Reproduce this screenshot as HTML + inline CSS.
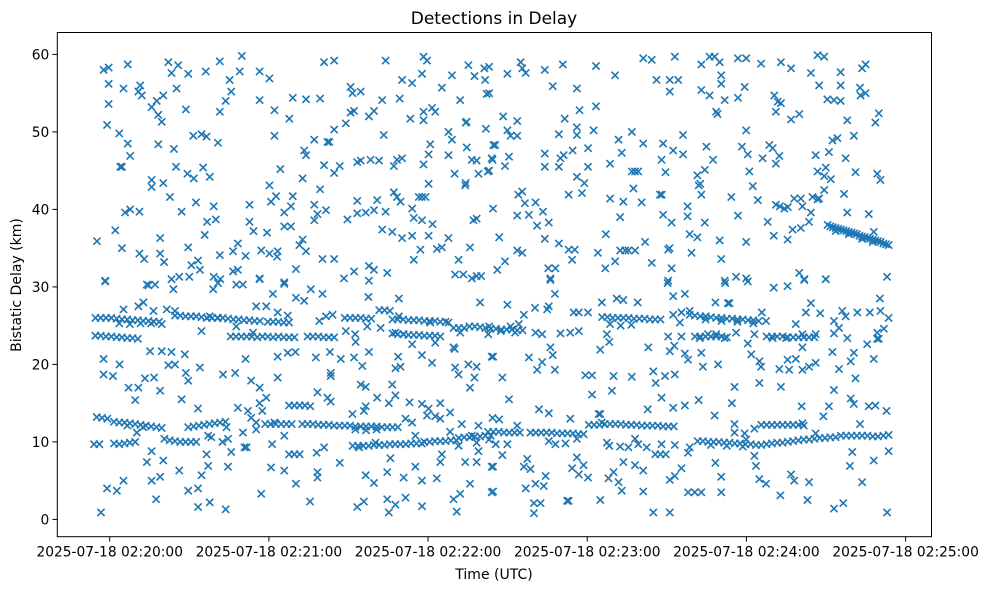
<!DOCTYPE html>
<html><head><meta charset="utf-8"><style>
html,body{margin:0;padding:0;background:#fff;}
svg{display:block;font-family:"DejaVu Sans","Liberation Sans",sans-serif;}
</style></head><body>
<svg id="chart" width="986" height="590" viewBox="0 0 986 590" xmlns="http://www.w3.org/2000/svg">
<rect x="0" y="0" width="986" height="590" fill="#fff"/>
<text x="494" y="24" font-size="17" text-anchor="middle" fill="#000">Detections in Delay</text>
<g id="marks"></g>
<g id="axes"></g>
<rect x="57.3" y="32.5" width="874.2" height="504.2" fill="none" stroke="#000" stroke-width="1"/>
<text x="494" y="579" font-size="14" text-anchor="middle" fill="#000">Time (UTC)</text>
<text x="0" y="0" font-size="14" text-anchor="middle" fill="#000" transform="translate(21,285) rotate(-90)">Bistatic Delay (km)</text>
</svg>
<script>
// time = seconds since 02:19:58.6, delay in km
const xTickTimes = [1.4, 61.4, 121.4, 181.4, 241.4, 301.4];
const xTickLabels = ["2025-07-18 02:20:00","2025-07-18 02:21:00","2025-07-18 02:22:00","2025-07-18 02:23:00","2025-07-18 02:24:00","2025-07-18 02:25:00"];
const yTickValues = [0,10,20,30,40,50,60];
const yTickLabels = ["0","10","20","30","40","50","60"];

const scatterTopLeft = [[-0.9,58.0],[1.0,58.3],[8.2,58.7],[23.5,59.0],[27.2,58.6],[24.7,57.6],[31.0,57.5],[37.6,57.8],[42.9,59.1],[51.2,59.8],[50.4,57.8],[57.9,57.8],[61.6,56.9],[82.2,59.0],[86.0,59.2],[105.4,59.2],[119.7,59.7],[121.0,59.2],[111.6,56.7],[115.4,56.3],[119.1,57.5],[126.6,55.7],[130.4,57.3],[136.6,58.6],[138.9,57.2],[142.6,58.2],[142.9,56.7],[143.5,54.9],[1.0,56.2],[6.6,55.6],[12.9,56.0],[12.2,55.2],[13.5,54.7],[26.6,55.6],[46.6,56.7],[47.2,55.2],[45.1,54.0],[42.9,52.6],[57.9,54.1],[63.5,52.8],[69.1,51.7],[70.4,54.4],[75.4,54.2],[80.7,54.3],[92.2,55.8],[92.9,55.0],[96.0,55.2],[104.1,54.1],[110.7,54.3],[114.7,51.7],[119.7,52.6],[119.7,51.5],[122.9,53.1],[124.1,52.6],[133.5,54.1],[1.0,53.6],[0.4,50.9],[5.0,49.8],[8.2,48.5],[9.1,46.9],[5.4,45.5],[6.0,45.5],[17.2,53.2],[19.1,54.0],[21.6,54.7],[19.7,52.2],[21.0,51.3],[30.1,52.9],[32.9,49.5],[36.0,49.7],[37.9,49.4],[42.2,48.6],[19.7,48.4],[25.6,47.8],[26.4,45.5],[30.7,44.6],[33.1,44.0],[36.6,45.4],[39.1,44.2],[17.2,43.8],[17.2,42.9],[21.6,43.4],[24.1,41.6],[28.5,39.7],[33.9,40.9],[40.6,40.4],[54.1,40.6],[7.2,39.6],[9.1,40.0],[12.6,39.7],[3.5,37.3],[-3.4,35.9],[6.0,35.0],[12.6,34.3],[14.4,33.6],[20.4,36.3],[20.4,34.3],[21.9,33.2],[31.0,35.1],[32.2,32.8],[34.7,33.4],[35.4,32.2],[37.2,36.7],[38.1,38.4],[41.4,38.7],[42.9,34.1],[47.9,34.6],[49.7,35.6],[52.6,34.0],[54.1,38.4],[55.6,37.2],[60.7,37.0],[58.5,34.7],[61.6,34.3],[64.7,34.6],[64.5,33.9],[67.2,37.8],[69.7,37.8],[67.2,39.6],[69.7,40.4],[62.2,41.0],[64.1,41.7],[70.4,41.7],[61.6,43.1],[65.7,45.2],[74.1,44.0],[80.7,42.6],[78.5,40.6],[79.7,39.4],[82.9,39.9],[78.5,38.6],[72.9,35.4],[74.1,36.1],[75.4,34.6],[71.6,32.3],[81.6,33.6],[86.0,33.6],[89.7,31.1],[93.5,32.0],[99.1,32.7],[101.0,32.2],[106.0,31.8],[91.0,38.7],[94.7,39.5],[97.9,39.6],[101.0,39.9],[105.4,39.7],[94.7,41.1],[102.2,41.2],[104.1,37.4],[107.9,37.1],[111.6,36.3],[115.4,36.6],[121.6,36.6],[124.7,34.9],[126.6,35.1],[129.1,36.3],[137.2,35.1],[132.9,33.5],[116.0,33.5],[118.5,34.8],[115.4,40.1],[116.0,38.9],[119.1,38.6],[123.1,38.1],[108.5,42.2],[109.7,41.6],[111.0,41.0],[117.9,41.6],[119.1,41.6],[120.4,41.6],[121.6,43.3],[119.7,45.8],[121.6,47.1],[122.2,48.4],[129.1,47.0],[129.1,50.0],[130.4,49.0],[136.0,48.0],[135.6,51.2],[135.9,51.3],[131.4,44.6],[135.4,43.1],[135.6,43.4],[137.9,46.4],[139.7,46.3],[140.4,44.6],[143.9,44.9],[145.4,46.6],[146.0,48.3],[143.2,50.4],[86.0,50.3],[90.4,51.1],[92.2,52.5],[93.5,52.7],[99.1,52.0],[101.0,52.7],[104.7,49.6],[78.5,49.0],[83.5,48.7],[84.2,48.7],[74.7,47.6],[75.4,47.0],[82.2,45.7],[86.0,44.7],[88.1,45.6],[94.7,46.1],[96.0,46.3],[99.7,46.4],[102.9,46.3],[108.5,45.6],[109.7,46.4],[111.6,46.6],[63.5,49.5],[138.5,38.6],[139.7,38.8],[131.6,31.6],[134.7,31.6],[137.9,31.1],[139.7,31.4],[141.4,31.4],[-0.3,30.8],[15.4,30.3],[24.7,31.0],[27.6,31.3],[31.4,31.3],[40.6,31.3],[43.1,31.0],[47.9,32.0],[49.7,32.2],[57.9,31.1],[67.2,30.6],[99.1,30.8]];

const scatterTopRight = [[144.4,58.4],[144.4,55.0],[151.3,57.5],[156.3,59.0],[156.9,58.2],[158.2,57.6],[165.4,58.0],[172.2,58.7],[184.7,58.5],[191.9,57.3],[168.4,55.9],[177.5,55.6],[184.7,53.3],[178.5,52.8],[172.9,51.7],[149.7,52.0],[155.0,51.4],[151.3,50.2],[152.5,49.5],[155.0,49.5],[146.7,48.3],[145.7,46.4],[151.9,46.8],[150.4,45.6],[144.4,45.0],[165.4,47.2],[165.4,45.5],[170.7,45.5],[171.3,46.6],[172.5,47.0],[175.9,47.6],[177.5,50.6],[177.5,49.6],[170.7,49.7],[183.8,50.2],[181.7,47.9],[181.7,45.5],[177.5,44.2],[180.3,43.4],[179.4,42.1],[174.4,41.9],[156.9,42.3],[155.4,41.9],[157.9,40.8],[161.9,40.9],[159.4,39.3],[155.0,39.2],[164.7,39.7],[166.9,38.3],[162.5,37.9],[145.9,40.1],[148.2,36.4],[165.4,36.2],[170.7,35.6],[174.4,34.8],[176.7,34.8],[175.7,33.5],[155.0,34.7],[156.9,34.4],[150.4,33.3],[147.5,32.2],[166.7,32.4],[169.4,32.4],[167.5,31.1],[185.4,34.4],[188.4,36.8],[188.2,32.4],[191.9,33.3],[193.8,34.7],[195.7,34.7],[196.9,34.7],[199.4,34.7],[203.2,35.8],[205.7,33.1],[211.9,34.8],[212.4,35.0],[213.2,32.4],[211.9,30.8],[193.8,39.0],[190.0,41.4],[195.0,41.0],[201.9,40.9],[198.8,42.7],[208.8,41.9],[209.5,41.9],[210.0,39.3],[213.2,38.3],[219.2,40.4],[219.2,39.1],[225.7,38.3],[220.7,34.4],[220.0,36.8],[222.9,36.4],[231.3,36.0],[231.9,33.6],[233.2,30.8],[237.5,31.3],[241.3,31.1],[238.2,39.2],[241.3,35.8],[249.4,38.4],[251.7,36.6],[256.9,36.1],[258.8,37.4],[261.9,37.6],[265.0,38.4],[265.7,39.6],[268.2,41.3],[270.7,42.5],[273.2,43.9],[278.2,42.0],[279.4,39.6],[287.5,39.4],[289.4,37.1],[294.4,31.3],[263.2,31.0],[271.3,31.0],[261.3,31.8],[190.0,45.9],[193.2,49.0],[194.4,47.3],[198.2,50.0],[202.5,48.5],[198.2,44.9],[199.4,44.9],[200.6,44.9],[210.0,48.5],[209.4,46.4],[210.9,44.8],[213.8,47.6],[217.5,49.6],[217.5,47.1],[222.9,44.4],[223.4,43.1],[224.0,43.3],[225.7,45.1],[224.4,41.9],[228.8,46.4],[226.3,48.1],[235.7,41.6],[239.7,48.1],[241.3,50.2],[241.9,47.1],[242.5,44.9],[243.8,43.0],[245.7,41.2],[247.5,46.6],[250.0,48.3],[251.3,47.9],[252.5,45.9],[253.8,46.9],[252.5,40.6],[254.0,40.4],[255.7,40.1],[257.0,40.3],[259.4,41.4],[261.9,41.4],[262.5,40.4],[266.3,41.6],[268.8,41.4],[267.5,47.0],[268.2,44.9],[270.7,44.3],[271.3,45.4],[272.5,47.4],[273.8,48.9],[275.7,49.2],[278.8,46.6],[281.9,49.5],[282.5,44.8],[290.7,44.6],[291.9,43.8],[279.4,51.5],[290.0,51.2],[291.3,52.4],[258.2,51.6],[261.3,52.3],[252.5,52.6],[253.2,53.9],[251.9,54.7],[254.4,53.7],[240.7,55.8],[238.2,54.4],[233.2,54.1],[227.5,54.7],[224.4,55.4],[230.0,52.6],[230.5,52.3],[231.9,57.3],[231.9,56.2],[207.5,56.7],[212.5,56.7],[212.5,55.2],[215.7,56.7],[202.5,59.5],[205.7,59.3],[214.4,59.7],[224.4,58.7],[227.5,59.7],[229.4,59.7],[231.3,59.0],[238.2,59.5],[241.3,59.5],[246.9,58.8],[254.4,59.0],[258.2,58.2],[265.7,57.6],[268.2,59.9],[270.7,59.7],[268.8,56.0],[276.9,57.7],[276.9,56.0],[271.9,54.2],[274.4,54.1],[276.9,54.0],[284.2,55.7],[286.3,55.0],[284.4,54.7],[285.0,58.2],[286.3,58.7]];

const scatterBottomLeft = [[-0.3,30.7],[16.0,30.2],[18.5,30.3],[25.4,29.7],[40.4,29.7],[42.2,30.5],[49.1,30.3],[51.6,30.3],[57.9,31.0],[67.2,30.4],[62.9,29.1],[71.6,28.6],[74.7,28.2],[77.2,29.7],[81.6,29.1],[98.9,28.7],[110.4,28.5],[141.0,28.0],[-0.9,20.7],[5.1,20.0],[-0.9,18.7],[2.6,18.5],[8.5,17.0],[12.2,17.0],[14.7,18.2],[18.1,18.3],[20.4,16.6],[16.6,21.7],[21.0,21.7],[24.7,21.6],[23.5,19.9],[26.0,20.0],[29.7,21.3],[30.1,18.9],[31.0,17.9],[35.4,19.6],[44.1,18.7],[48.7,18.9],[52.6,20.7],[54.7,17.9],[57.9,17.0],[64.7,18.3],[64.7,21.0],[68.5,21.5],[71.4,21.6],[84.7,18.9],[84.7,18.5],[84.4,21.6],[79.1,20.9],[88.5,20.7],[93.5,20.9],[96.6,19.8],[99.1,21.6],[110.1,21.0],[109.1,19.5],[111.0,19.7],[119.1,21.2],[122.9,20.2],[131.0,22.2],[131.6,19.6],[132.9,18.7],[136.6,20.0],[139.7,19.7],[138.9,18.3],[137.2,17.0],[145.4,21.0],[11.0,15.4],[28.5,15.5],[34.7,14.3],[49.7,14.4],[53.5,14.0],[60.4,15.7],[57.9,15.0],[58.9,14.0],[79.7,16.4],[83.5,15.7],[84.7,15.2],[96.0,17.4],[97.9,17.1],[102.2,15.7],[106.6,15.0],[109.1,16.0],[107.9,17.4],[114.4,15.1],[119.1,14.9],[126.0,15.0],[129.7,13.8],[121.6,14.3],[17.2,8.8],[15.4,7.4],[21.6,7.6],[27.6,6.3],[36.0,5.7],[38.5,6.9],[37.9,8.4],[46.0,6.8],[47.2,8.7],[43.9,10.0],[52.2,9.3],[53.0,9.3],[56.6,11.6],[62.6,9.7],[62.2,6.7],[67.2,6.3],[71.6,4.6],[79.4,8.6],[82.2,9.3],[79.7,6.1],[79.7,5.4],[88.1,7.3],[97.9,5.7],[101.0,4.7],[106.0,6.1],[112.2,5.4],[116.6,6.8],[119.1,5.0],[124.7,5.3],[126.0,7.4],[126.6,8.4],[135.4,7.4],[139.7,7.4],[137.2,4.6],[145.4,6.8],[145.4,3.5],[0.4,4.0],[4.1,3.7],[6.6,5.0],[17.2,5.0],[20.4,5.5],[31.0,3.7],[34.7,4.0],[18.9,2.6],[-1.9,0.9],[34.7,1.6],[39.1,2.2],[45.1,1.3],[58.5,3.3],[76.9,2.3],[94.7,1.6],[97.2,2.3],[106.0,2.6],[109.1,1.9],[112.9,2.8],[106.6,0.9],[119.1,1.7],[131.0,2.6],[133.5,3.3],[132.2,1.0],[121.0,13.4],[112.9,13.0],[115.4,12.5],[129.7,11.3],[134.1,12.3],[140.4,12.1],[137.9,10.8],[139.7,9.9],[132.9,9.5],[140.4,8.8],[124.1,13.3],[126.0,13.0],[63.5,12.5],[45.4,11.9],[46.0,10.4],[51.6,11.2],[54.7,13.1],[56.6,12.5],[92.9,13.6],[97.2,14.0],[97.9,14.6],[101.6,9.9],[95.4,9.3],[107.2,7.9],[116.6,10.8],[11.6,11.2],[38.5,10.8],[39.7,10.6],[67.2,10.8],[22.9,27.1],[26.0,26.9],[17.9,26.9],[6.6,27.1],[12.2,27.5],[14.1,28.0],[110.4,26.2],[122.2,25.4],[112.2,23.9],[115.4,22.6],[124.1,22.8],[131.4,22.0],[36.0,24.3],[49.1,24.9],[55.4,24.1],[56.6,27.5],[60.4,27.5],[64.7,26.7],[68.5,26.3],[80.4,25.6],[82.9,26.2],[85.4,26.4],[90.4,24.3],[93.9,23.9],[94.1,22.9],[98.5,24.9],[103.5,24.7],[109.1,24.1],[129.1,25.4],[133.5,24.1],[144.1,23.9],[39.1,26.2],[42.2,26.0]];

const scatterBottomRight = [[167.5,30.9],[169.2,29.1],[211.7,30.5],[213.8,28.8],[218.2,29.1],[233.4,30.5],[241.9,30.7],[251.7,29.9],[256.9,30.1],[263.2,30.9],[271.3,31.0],[151.3,27.7],[157.5,26.4],[161.7,27.3],[166.3,27.1],[166.9,27.5],[176.3,26.7],[178.2,26.7],[181.7,26.7],[186.9,28.0],[192.5,28.5],[195.0,28.3],[200.4,28.0],[213.8,26.4],[216.9,26.7],[216.3,25.4],[220.0,26.9],[229.7,28.0],[234.4,27.9],[235.0,27.9],[247.2,26.7],[248.8,25.6],[260.0,25.2],[263.8,26.7],[265.7,27.9],[269.2,26.6],[274.4,25.6],[276.3,24.7],[277.5,26.9],[278.8,26.2],[283.2,26.7],[287.9,26.7],[291.7,28.5],[291.9,26.9],[295.0,26.0],[293.2,24.6],[290.7,24.1],[144.4,24.9],[148.8,24.3],[152.5,24.9],[154.2,24.1],[155.6,25.2],[161.9,24.1],[164.4,23.9],[171.3,24.0],[175.0,24.1],[178.2,24.3],[188.8,23.9],[189.7,22.9],[211.9,23.6],[216.9,23.6],[223.8,23.4],[226.9,23.9],[230.0,23.9],[233.2,23.4],[237.5,24.1],[241.9,22.7],[244.4,23.9],[251.3,23.4],[256.3,23.4],[262.5,23.9],[267.5,23.9],[274.4,24.0],[279.4,23.4],[290.7,23.3],[145.9,21.0],[159.4,20.9],[162.5,19.3],[164.4,20.3],[167.5,22.2],[168.4,21.2],[169.2,19.3],[186.3,21.9],[204.4,22.2],[212.5,21.7],[214.2,22.4],[218.2,21.4],[219.4,20.6],[224.4,21.5],[225.0,19.7],[230.7,20.0],[243.2,21.3],[246.3,20.4],[246.9,19.7],[253.8,19.4],[257.5,19.3],[256.9,20.6],[260.0,20.7],[262.5,22.2],[262.5,19.3],[265.0,19.7],[267.5,20.2],[273.8,21.6],[276.3,19.4],[280.7,20.4],[281.9,21.5],[286.9,22.6],[289.4,20.7],[291.3,23.3],[149.4,18.3],[180.7,18.6],[183.2,18.6],[191.3,18.5],[198.2,18.4],[206.3,19.1],[207.2,17.6],[210.7,18.5],[214.4,18.7],[209.4,15.7],[213.8,14.4],[218.2,14.7],[223.4,15.4],[236.9,17.1],[235.9,15.0],[246.3,17.6],[254.4,17.1],[274.4,16.7],[282.5,18.2],[280.7,15.6],[281.9,14.9],[287.5,14.6],[290.0,14.7],[294.2,14.0],[151.9,15.5],[183.2,16.1],[190.7,16.6],[163.2,14.2],[166.9,13.7],[175.0,13.0],[186.3,13.6],[204.2,14.2],[262.2,14.6],[272.5,14.6],[270.4,13.3],[284.2,12.3],[145.7,13.1],[148.2,12.9],[155.0,12.1],[144.4,10.3],[146.9,9.7],[151.3,9.7],[149.4,8.3],[145.9,6.8],[157.5,6.8],[158.8,7.8],[160.0,6.5],[158.2,4.0],[145.9,3.6],[161.9,4.6],[165.7,5.6],[165.0,4.3],[161.3,2.1],[163.8,2.1],[161.3,0.8],[173.8,2.4],[174.4,2.4],[175.7,6.6],[177.5,8.0],[178.2,5.8],[180.0,7.0],[181.7,5.4],[186.3,2.5],[189.4,5.3],[191.3,6.1],[193.2,4.8],[194.4,3.7],[195.0,7.4],[199.4,7.0],[202.5,6.3],[202.5,3.6],[206.3,0.9],[212.5,0.9],[212.5,5.1],[214.4,5.6],[216.9,6.6],[219.4,8.6],[220.0,9.3],[219.4,3.5],[221.9,3.5],[224.4,3.5],[231.9,3.5],[231.9,5.5],[229.7,7.3],[229.4,13.4],[244.4,8.2],[245.0,6.9],[246.3,5.2],[248.8,4.6],[254.2,3.1],[258.2,5.8],[259.4,5.0],[265.0,4.8],[264.4,2.5],[274.4,1.4],[277.9,2.1],[280.4,6.9],[281.3,8.7],[285.0,4.8],[289.4,7.6],[294.4,0.9],[295.0,8.8],[188.8,9.9],[189.7,9.5],[193.8,9.4],[196.9,9.3],[199.4,10.4],[200.6,9.7],[203.8,9.3],[209.4,9.7],[214.4,9.6],[166.9,10.1],[169.4,9.7],[173.2,9.8],[177.5,10.4],[185.7,13.6],[186.9,12.5],[236.9,11.2],[240.7,11.1],[244.4,11.7],[241.3,10.3],[262.5,12.4],[267.5,11.1],[236.9,12.3]];

const track26km = [[-4,26.0],[-2,26.0],[0,26.0],[2,26.0],[4,25.9],[6,25.8],[8,25.8],[10,25.7],[12,25.7],[14,25.6],[16,25.6],[18,25.5],[20,25.5],[5,25.3],[9,25.2],[13,25.3],[17,25.3],[21,25.2],[26,26.3],[28,26.3],[30,26.2],[32,26.2],[34,26.2],[36,26.1],[38,26.0],[40,26.0],[42,26.0],[44,26.0],[46,25.9],[48,25.8],[50,25.8],[52,25.7],[54,25.7],[56,25.6],[58,25.6],[61,25.5],[63,25.5],[65,25.5],[67,25.4],[69,25.4],[90,26.0],[92,26.0],[94,26.0],[96,26.0],[98,25.9],[100,25.9],[103,27.0],[105,27.0],[107,26.9],[108,25.8],[110,25.8],[112,25.8],[114,25.7],[116,25.7],[118,25.7],[120,25.6],[122,25.6],[124,25.6],[126,25.5],[128,25.5],[137,24.9],[139,24.9],[141,24.8],[143,24.7],[145,24.6],[147,24.6],[149,24.5],[151,24.5],[153,24.5],[155,24.4],[157,24.4],[187,26.1],[189,26.1],[191,26.0],[193,26.0],[195,26.0],[197,26.0],[199,25.9],[201,25.9],[203,25.9],[205,25.8],[207,25.8],[209,25.8],[190,25.2],[194,25.0],[198,25.1],[220,26.4],[222,26.3],[224,26.2],[226,26.2],[228,26.1],[230,26.0],[232,26.0],[234,25.9],[236,25.9],[238,25.8],[240,25.8],[242,25.7],[244,25.7],[246,25.6],[226,25.8],[232,25.6],[238,25.5],[244,25.3]];

const track23km = [[-4,23.7],[-2,23.7],[0,23.6],[2,23.6],[4,23.5],[6,23.5],[8,23.4],[10,23.4],[12,23.3],[47,23.6],[49,23.6],[51,23.6],[53,23.6],[55,23.6],[57,23.5],[59,23.6],[61,23.6],[63,23.5],[65,23.6],[67,23.5],[69,23.5],[71,23.5],[76,23.6],[78,23.6],[80,23.6],[82,23.5],[84,23.5],[86,23.5],[108,24.0],[110,23.9],[112,23.9],[114,23.8],[116,23.8],[118,23.8],[120,23.7],[122,23.7],[124,23.7],[126,23.6],[131,24.7],[133,24.7],[135,24.7],[222,23.6],[224,23.6],[226,23.6],[228,23.6],[230,23.6],[232,23.6],[234,23.5],[249,23.6],[251,23.6],[253,23.6],[255,23.6],[257,23.5],[259,23.5],[261,23.5],[263,23.5],[265,23.5],[267,23.5]];

const track38km = [[272,38.0],[273,37.8],[274,37.7],[275,37.6],[276,37.5],[277,37.4],[278,37.3],[279,37.2],[280,37.1],[281,37.0],[282,36.9],[283,36.8],[284,36.6],[285,36.5],[286,36.4],[287,36.3],[288,36.2],[289,36.1],[290,36.0],[291,35.9],[292,35.8],[293,35.6],[294,35.5],[295,35.4],[275,37.2],[280,36.8],[285,36.2],[289,35.8]];

const trackLow = [[-3.5,13.2],[-1.5,13.1],[0.5,13.0],[3,12.6],[5,12.5],[7,12.5],[9,12.4],[11,12.3],[13,12.2],[15,12.1],[17,12.0],[19,11.9],[21,11.8],[8,12.1],[14,11.9],[22,10.4],[24,10.2],[26,10.1],[28,10.0],[30,10.0],[32,10.0],[34,10.0],[-4.5,9.7],[-2.5,9.7],[3,9.8],[5,9.7],[7,9.8],[9,9.9],[11,10.0],[31,11.9],[33,12.0],[35,12.1],[37,12.2],[39,12.3],[41,12.4],[43,12.5],[45,12.6],[69,14.7],[71,14.7],[73,14.7],[75,14.7],[77,14.6],[69,8.4],[71,8.4],[73,8.4],[60,12.3],[62,12.3],[64,12.3],[66,12.3],[68,12.3],[70,12.3],[74,12.3],[76,12.3],[78,12.3],[80,12.2],[82,12.2],[84,12.2],[86,12.1],[88,12.1],[90,12.1],[92,12.1],[94,12.0],[96,12.0],[98,12.0],[100,12.0],[102,12.0],[104,11.9],[106,11.9],[108,11.9],[110,11.9],[94,11.6],[98,11.5],[102,11.6],[93,9.5],[95,9.5],[97,9.5],[99,9.5],[101,9.6],[103,9.6],[105,9.6],[107,9.7],[109,9.7],[111,9.7],[113,9.7],[115,9.8],[117,9.8],[119,9.8],[120,10.0],[122,10.0],[124,10.1],[126,10.1],[128,10.1],[130,10.2],[132,10.2],[133,10.5],[135,10.6],[137,10.6],[139,10.7],[141,10.7],[143,10.8],[145,10.8],[144,11.3],[146,11.3],[148,11.3],[150,11.2],[152,11.2],[154,11.2],[156,11.2],[160,11.2],[162,11.2],[164,11.2],[166,11.2],[168,11.2],[170,11.1],[172,11.1],[174,11.1],[176,11.1],[178,11.0],[180,11.0],[182,12.2],[184,12.2],[186,12.2],[188,12.3],[190,12.3],[192,12.3],[194,12.3],[196,12.2],[198,12.2],[200,12.2],[202,12.1],[204,12.1],[206,12.1],[208,12.1],[210,12.0],[212,12.0],[214,12.0],[207,8.4],[209,8.4],[211,8.4],[223,10.1],[225,10.1],[227,10.0],[229,10.0],[231,10.0],[233,9.9],[235,9.9],[237,9.8],[239,9.8],[241,9.7],[243,9.7],[245,9.6],[247,9.6],[228,9.6],[234,9.5],[240,9.4],[247,12.2],[249,12.2],[251,12.2],[253,12.2],[255,12.2],[257,12.2],[259,12.2],[261,12.2],[263,12.1],[249,9.7],[251,9.8],[253,9.9],[255,9.9],[257,10.0],[259,10.1],[261,10.2],[263,10.3],[265,10.3],[267,10.4],[269,10.5],[271,10.5],[273,10.6],[275,10.6],[277,10.8],[279,10.8],[281,10.8],[283,10.8],[285,10.8],[287,10.8],[289,10.7],[291,10.7],[293,10.8],[295,10.9]];

const NS = "http://www.w3.org/2000/svg";
const plotLeft = 57.3, plotBottom = 536.7;
function xScale(t){ return 106 + 2.653 * t; }
function yScale(v){ return 519.4 - 7.75 * v; }

const marks = document.getElementById('marks');
const axes = document.getElementById('axes');
const allPts = [].concat(scatterTopLeft, scatterTopRight, scatterBottomLeft, scatterBottomRight, track26km, track23km, track38km, trackLow);
const r = 3.6;
allPts.forEach(function(p){
  const cx = xScale(p[0]), cy = yScale(p[1]);
  const path = document.createElementNS(NS, 'path');
  path.setAttribute('d', 'M' + (cx - r) + ' ' + (cy - r) + 'L' + (cx + r) + ' ' + (cy + r) + 'M' + (cx - r) + ' ' + (cy + r) + 'L' + (cx + r) + ' ' + (cy - r));
  path.setAttribute('stroke', '#1f77b4');
  path.setAttribute('stroke-width', '1.6');
  path.setAttribute('fill', 'none');
  
  
  marks.appendChild(path);
});

xTickTimes.forEach(function(t, i){
  const x = xScale(t);
  const tick = document.createElementNS(NS, 'line');
  tick.setAttribute('x1', x); tick.setAttribute('x2', x);
  tick.setAttribute('y1', plotBottom); tick.setAttribute('y2', plotBottom + 4.9);
  tick.setAttribute('stroke', '#000'); tick.setAttribute('stroke-width', '1');
  
  
  axes.appendChild(tick);
  const label = document.createElementNS(NS, 'text');
  label.setAttribute('x', x); label.setAttribute('y', plotBottom + 20);
  label.setAttribute('font-size', '13.8');
  label.setAttribute('text-anchor', 'middle');
  label.textContent = xTickLabels[i];
  
  
  axes.appendChild(label);
});

yTickValues.forEach(function(v, i){
  const y = yScale(v);
  const tick = document.createElementNS(NS, 'line');
  tick.setAttribute('x1', plotLeft - 4.9); tick.setAttribute('x2', plotLeft);
  tick.setAttribute('y1', y); tick.setAttribute('y2', y);
  tick.setAttribute('stroke', '#000'); tick.setAttribute('stroke-width', '1');
  
  
  axes.appendChild(tick);
  const label = document.createElementNS(NS, 'text');
  label.setAttribute('x', plotLeft - 8); label.setAttribute('y', y + 5);
  label.setAttribute('font-size', '13.8');
  label.setAttribute('text-anchor', 'end');
  label.textContent = yTickLabels[i];
  
  
  axes.appendChild(label);
});
</script>
</body></html>
